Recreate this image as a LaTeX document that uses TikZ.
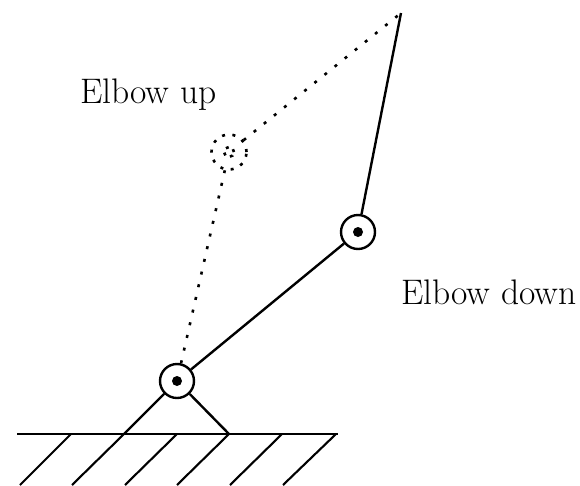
\documentclass[tikz,border=0pt]{standalone}
\begin{document}
\begin{tikzpicture}[x=1pt,y=-1pt,
  link/.style={line width=2.4pt,black},
  joint/.style={circle,draw=black,line width=2.4pt,minimum size=34pt,inner sep=0pt,fill=none},
  pin/.style={circle,fill=black,minimum size=10pt,inner sep=0pt},
  ghostjoint/.style={circle,draw=black,line width=2.6pt,dash pattern=on 3pt off 7.5pt,minimum size=35pt,inner sep=0pt},
  ghostpin/.style={circle,draw=black,line width=2.6pt,dash pattern=on 3pt off 5pt,minimum size=10pt,inner sep=0pt},
  ghostlink/.style={line width=2.6pt,dash pattern=on 3pt off 10pt},
  hatch/.style={line width=2.1pt},
  lbl/.style={inner sep=0pt,font=\fontsize{35.5}{40}\selectfont,anchor=base west}]
\useasboundingbox (0,0) rectangle (580,485);
\node[joint] (base) at (177,381) {};
\node[pin] (basepin) at (177,381) {};
\node[joint] (elbow) at (358,232) {};
\node[pin] (elbowpin) at (358,232) {};
\node[ghostjoint] (ghost) at (229,152) {};
\node[ghostpin] (ghostcentre) at (229,152) {};
\coordinate (tip) at (401,13);
\coordinate (gl) at (17,434);
\coordinate (gr) at (338,434);
\coordinate (fl) at (124,434);
\coordinate (fr) at (229,434);
\draw[link] (base) -- (elbow);
\draw[link] (elbow) -- (tip);
\draw[ghostlink] (ghost) -- (tip);
\draw[ghostlink] (base) -- (ghost);
\draw[link] (base) -- (fl);
\draw[link] (base) -- (fr);
\draw[line width=2.6pt] (gl) -- (gr);
\foreach \t/\b in {71/20,124/72,177/125,229/177,282/230,336/283}{
  \coordinate (ht\t) at (\t,434);
  \coordinate (hb\t) at (\b,485);
  \draw[hatch] (ht\t) -- (hb\t);
}
\node[lbl] (up) at (80,103) {Elbow up};
\node[lbl] (down) at (401,304) {Elbow down};
\end{tikzpicture}
\end{document}
